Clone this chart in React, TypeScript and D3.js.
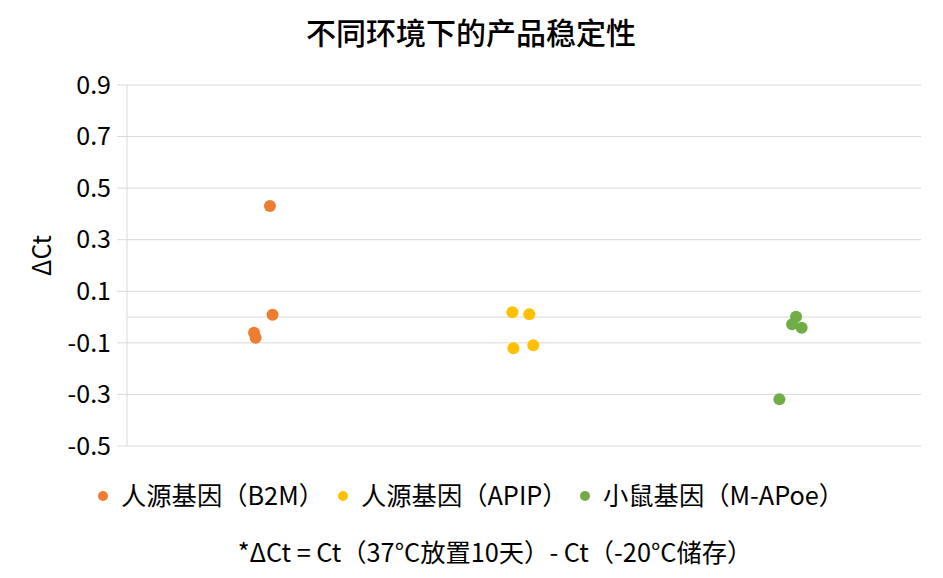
import React from 'react';
import * as d3 from 'd3';

// data
const seriesNames = ['人源基因（B2M）', '人源基因（APIP）', '小鼠基因（M-APoe）'];
const seriesColors = ['#ED7D31', '#FFC000', '#70AD47'];
const b2mX = [1.04, 1.05, 0.98, 0.986];
const b2mY = [0.431, 0.009, -0.061, -0.08];
const apipX = [1.956, 2.02, 1.96, 2.035];
const apipY = [0.019, 0.011, -0.121, -0.109];
const mapoeX = [3.028, 3.013, 3.049, 2.965];
const mapoeY = [0.001, -0.028, -0.041, -0.319];
const yTicks = [-0.5, -0.3, -0.1, 0.1, 0.3, 0.5, 0.7, 0.9];

const App = () => {
  const width = 943;
  const height = 578;
  const margin = { top: 85, right: 22, bottom: 132, left: 127 };
  const font = '"Noto Sans CJK SC", "Noto Sans", sans-serif';

  const xScale = d3.scaleLinear().domain([0.5, 3.5]).range([margin.left, width - margin.right]);
  const yScale = d3.scaleLinear().domain([-0.5, 0.9]).range([height - margin.bottom, margin.top]);
  const fmt = (v: number) => d3.format('.1f')(v).replace('−', '-');

  const series = [
    { xs: b2mX, ys: b2mY },
    { xs: apipX, ys: apipY },
    { xs: mapoeX, ys: mapoeY },
  ];

  const legendX = [103, 343, 585];

  return (
    <svg width={width} height={height} style={{ position: 'absolute', left: 0, top: 0 }} fontFamily={font}>
      <rect width={width} height={height} fill="#fff" />
      <text x={471} y={33} dy="0.35em" textAnchor="middle" fontSize={30} fontWeight={500} fill="#000">
        不同环境下的产品稳定性
      </text>

      {/* gridlines */}
      {yTicks.map(t => (
        <g key={t}>
          <line x1={margin.left - 10} x2={width - margin.right} y1={yScale(t)} y2={yScale(t)} stroke="#d9d9d9" strokeWidth={1} />
          <text x={111} y={yScale(t)} dy="0.35em" textAnchor="end" fontSize={25} fill="#000">
            {fmt(t)}
          </text>
        </g>
      ))}
      {/* zero axis line */}
      <line x1={margin.left} x2={width - margin.right} y1={yScale(0)} y2={yScale(0)} stroke="#d9d9d9" strokeWidth={1} />
      {/* vertical axis */}
      <line x1={margin.left} x2={margin.left} y1={yScale(0.9)} y2={yScale(-0.5)} stroke="#d9d9d9" strokeWidth={1} />

      <text transform={`translate(42,${(yScale(0.9) + yScale(-0.5)) / 2 - 10}) rotate(-90)`} dy="0.35em" textAnchor="middle" fontSize={25} fill="#000">
        ΔCt
      </text>

      {series.map((s, i) =>
        s.xs.map((xv, j) => (
          <circle key={`${i}-${j}`} cx={xScale(xv)} cy={yScale(s.ys[j])} r={6} fill={seriesColors[i]} />
        ))
      )}

      {/* legend */}
      {seriesNames.map((n, i) => (
        <g key={n}>
          <circle cx={legendX[i]} cy={496} r={5} fill={seriesColors[i]} />
          <text x={legendX[i] + 18} y={496} dy="0.35em" fontSize={25.3} fill="#000">
            {n}
          </text>
        </g>
      ))}

      <text x={495} y={553} dy="0.35em" textAnchor="middle" fontSize={25.3} fill="#000">
        *ΔCt = Ct（37°C放置10天）- Ct（-20°C储存）
      </text>
    </svg>
  );
};

export default App;
